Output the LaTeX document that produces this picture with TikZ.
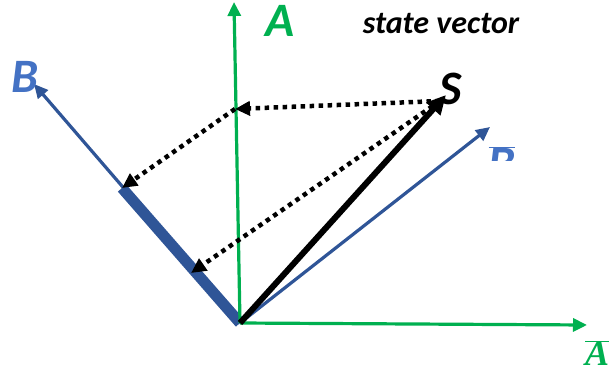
\documentclass[tikz,border=0pt]{standalone}
\usepackage{fontspec}
\setmainfont{Carlito}
\newfontfamily\mathserif{Liberation Serif}
\usetikzlibrary{arrows.meta,positioning}
\definecolor{axisgreen}{RGB}{0,176,80}
\definecolor{axisblue}{RGB}{47,85,151}
\definecolor{labelblue}{RGB}{68,114,196}

\begin{document}
\begin{tikzpicture}[x=1pt,y=-1pt,
	axis/.style={line width=3.2pt,-{Triangle[length=14pt,width=13pt]}},
	proj/.style={line width=4.5pt,dash pattern=on 4.5pt off 4.5pt,-{Triangle[length=15pt,width=14pt]}},
	lbl/.style={font=\fontsize{48}{48}\selectfont\bfseries\itshape}]
		
		\useasboundingbox (0,0) rectangle (613,375);
		
		% axes and vectors
		\coordinate (O) at (240,323);
		\coordinate (Atop) at (234,2);
		\coordinate (Aend) at (587,325);
		\coordinate (Bend) at (34,84);
		\coordinate (Bbarend) at (490,127);
		\coordinate (Send) at (446,95);
		
		% projections
		\coordinate (Sfoot) at (440,101);
		\coordinate (pA) at (235,109);
		\coordinate (pB) at (122,188);
		\coordinate (pS) at (191,273);
		
		\draw[axisblue,line width=11pt] (O) -- (pB);
		\draw[axis,axisblue] (O) -- (Bend);
		\draw[axis,axisblue] (O) -- (Bbarend);
		\draw[axis,axisgreen] (O) -- (Atop);
		\draw[axis,axisgreen] (O) -- (Aend);
		\draw[line width=6pt,-{Triangle[length=19pt,width=18pt]}] (O) -- (Send);
		
		\draw[proj] (Sfoot) -- (pA);
		\draw[proj] (pA) -- (pB);
		\draw[proj] (Sfoot) -- (pS);
		
		% labels
		\node[lbl,text=axisgreen] (Albl) at (280,21) {A};
		\node[font=\fontsize{32}{32}\selectfont\bfseries\itshape] (state) at (441,24) {state vector};
		\node[lbl,text=labelblue] (Blbl) at (25,77) {B};
		\node[lbl] (Slbl) at (451,89) {S};
		\node[text=axisgreen,font=\fontsize{36}{36}\selectfont\mathserif\bfseries\itshape,inner sep=1pt] (Abarlbl) at (597,353) {$\overline{\hbox{A}}$};
		\begin{scope}
			\clip (470,135) rectangle (540,160);
			\node[lbl,text=labelblue] (Bbarlbl) at (502,163) {$\overline{\hbox{B}}$};
		\end{scope}
		
	\end{tikzpicture}
\end{document}
